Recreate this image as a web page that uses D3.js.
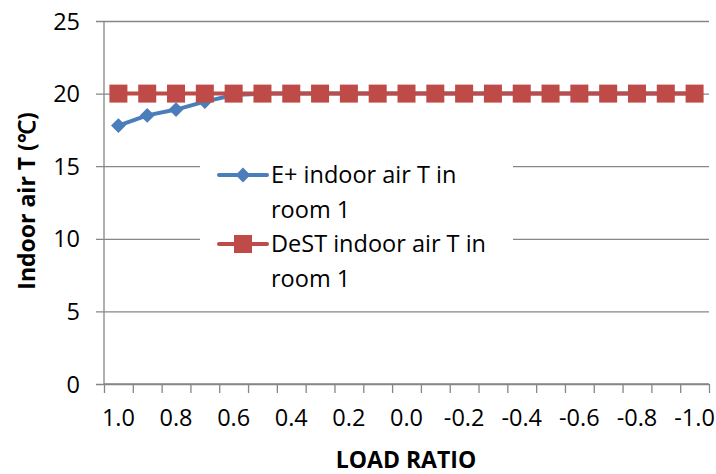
<!DOCTYPE html>
<html>
<head>
<meta charset="utf-8">
<script src="https://cdn.jsdelivr.net/npm/d3@7"></script>
<style>
  html, body { margin: 0; padding: 0; background: #fff; }
  svg { display: block; }
  text { font-family: "Open Sans", Lato, sans-serif; fill: #000; }
</style>
</head>
<body>
<svg id="chart" width="716" height="474"></svg>
<script>
const categories = ["1.0","0.9","0.8","0.7","0.6","0.5","0.4","0.3","0.2","0.1","0.0","-0.1","-0.2","-0.3","-0.4","-0.5","-0.6","-0.7","-0.8","-0.9","-1.0"];
const ePlusValues = [17.8, 18.5, 18.9, 19.45, 19.9, 20, 20, 20, 20, 20, 20, 20, 20, 20, 20, 20, 20, 20, 20, 20, 20];
const destValues  = [20, 20, 20, 20, 20, 20, 20, 20, 20, 20, 20, 20, 20, 20, 20, 20, 20, 20, 20, 20, 20];
const yTicks = [0, 5, 10, 15, 20, 25];
const xLabels = ["1.0","0.8","0.6","0.4","0.2","0.0","-0.2","-0.4","-0.6","-0.8","-1.0"];
const seriesNames = ["E+ indoor air T in room 1", "DeST indoor air T in room 1"];

const svg = d3.select("#chart");
const pLeft = 104, pRight = 709, pTop = 21, pBottom = 384;

const x = d3.scaleBand().domain(categories).range([pLeft, pRight]).padding(0);
const xb = d3.scaleLinear().domain([0, categories.length]).range([pLeft, pRight]);
const y = d3.scaleLinear().domain([0, 25]).range([pBottom, pTop]);

const gridColor = "#868686";
const fs = 23.5;

// gridlines + y axis
const yAxis = d3.axisLeft(y).tickValues(yTicks).tickSize(pRight - pLeft + 8).tickFormat(d3.format("d"));
const gy = svg.append("g").attr("transform", `translate(${pRight},0)`).call(yAxis);
gy.select(".domain").remove();
gy.selectAll(".tick line").attr("stroke", gridColor).attr("stroke-width", 1.3);
gy.selectAll(".tick text").attr("font-size", fs).attr("x", -(pRight - pLeft) - 24).attr("dy", "0.34em");

// y axis line
svg.append("line").attr("x1", pLeft).attr("x2", pLeft).attr("y1", pTop).attr("y2", pBottom)
  .attr("stroke", gridColor).attr("stroke-width", 1.3);

// x axis tick marks at category boundaries
const xTickAxis = d3.axisBottom(xb).tickValues(d3.range(0, categories.length + 1)).tickSize(9).tickFormat("");
const gxt = svg.append("g").attr("transform", `translate(0,${pBottom})`).call(xTickAxis);
gxt.select(".domain").attr("stroke", gridColor).attr("stroke-width", 1.3).attr("d", `M${pLeft},0H${pRight}`);
gxt.selectAll(".tick line").attr("stroke", gridColor).attr("stroke-width", 1.3);

// x labels
const xAxis = d3.axisBottom(x).tickValues(xLabels).tickSize(0).tickPadding(25);
const gx = svg.append("g").attr("transform", `translate(0,${pBottom})`).call(xAxis);
gx.select(".domain").remove();
gx.selectAll(".tick text").attr("font-size", fs);

// legend background (covers gridlines)
const legend = svg.append("g");
legend.append("rect").attr("x", 200).attr("y", 152).attr("width", 313).attr("height", 146).attr("fill", "#fff");

// lines
const line = d3.line().x((d, i) => x(categories[i]) + x.bandwidth() / 2).y(d => y(d));
const blue = "#4A7EBB", red = "#BE4B48";

svg.append("path").datum(ePlusValues).attr("d", line).attr("fill", "none")
  .attr("stroke", blue).attr("stroke-width", 4).attr("stroke-linejoin", "round");
svg.selectAll(".dia").data(ePlusValues).enter().append("path")
  .attr("d", d3.symbol().type(d3.symbolDiamond2).size(140))
  .attr("transform", (d, i) => `translate(${x(categories[i]) + x.bandwidth() / 2},${y(d)})`)
  .attr("fill", blue);

svg.append("path").datum(destValues).attr("d", line).attr("fill", "none")
  .attr("stroke", red).attr("stroke-width", 4);
svg.selectAll(".sq").data(destValues).enter().append("rect")
  .attr("x", (d, i) => x(categories[i]) + x.bandwidth() / 2 - 9)
  .attr("y", d => y(d) - 9).attr("width", 18).attr("height", 18)
  .attr("fill", red);

// legend entries
const legY = [175, 244];
legend.append("line").attr("x1", 219).attr("x2", 267).attr("y1", legY[0]).attr("y2", legY[0])
  .attr("stroke", blue).attr("stroke-width", 4).attr("stroke-linecap", "round");
legend.append("path").attr("d", d3.symbol().type(d3.symbolDiamond2).size(140))
  .attr("transform", `translate(243,${legY[0]})`).attr("fill", blue);
legend.append("line").attr("x1", 219).attr("x2", 267).attr("y1", legY[1]).attr("y2", legY[1])
  .attr("stroke", red).attr("stroke-width", 4).attr("stroke-linecap", "round");
legend.append("rect").attr("x", 234).attr("y", legY[1] - 9).attr("width", 18).attr("height", 18).attr("fill", red);

const legLines = [["E+ indoor air T in", "room 1"], ["DeST indoor air T in", "room 1"]];
legLines.forEach((ls, k) => {
  ls.forEach((t, j) => {
    legend.append("text").attr("x", 271).attr("y", legY[k] + j * 35).attr("dy", "0.35em")
      .attr("font-size", fs).text(t);
  });
});

// axis titles
svg.append("text").attr("transform", "translate(35,201) rotate(-90)").attr("text-anchor", "middle")
  .attr("font-size", 23).attr("font-weight", "bold").text("Indoor air T (℃)");
svg.append("text").attr("x", 406).attr("y", 468).attr("text-anchor", "middle")
  .attr("font-size", 23).attr("font-weight", "bold").text("LOAD RATIO");
</script>
</body>
</html>
